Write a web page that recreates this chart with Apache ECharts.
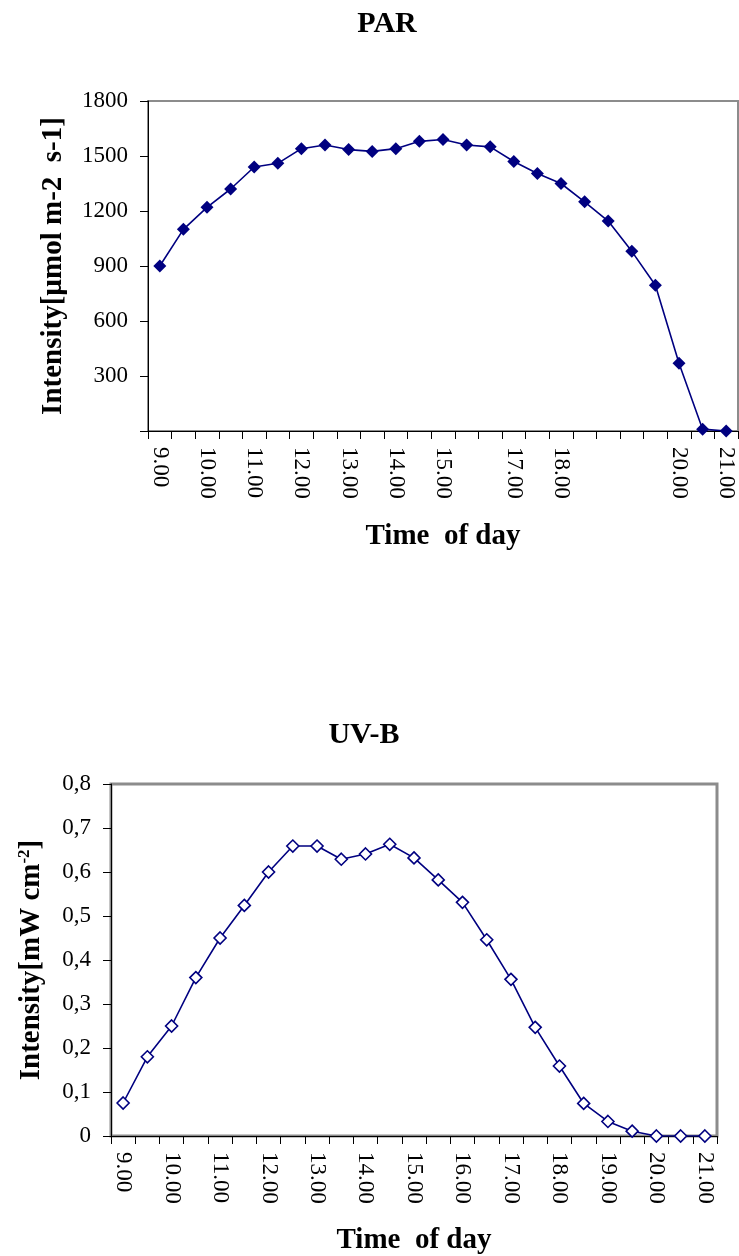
<!DOCTYPE html>
<html><head><meta charset="utf-8">
<script src="https://cdn.jsdelivr.net/npm/echarts@6/dist/echarts.min.js"></script>
<style>html,body{margin:0;padding:0;background:#fff}#c{width:739px;height:1256px}</style>
</head><body><div id="c"></div>
<script>
const parLabels = ['9.00','','10.00','','11.00','','12.00','','13.00','','14.00','','15.00','','','17.00','','18.00','','','','','20.00','','21.00'];
const parValues = [900,1100,1220,1320,1440,1460,1540,1560,1535,1525,1540,1580,1590,1560,1550,1470,1405,1350,1250,1145,980,795,370,10,0];
const uvbLabels = ['9.00','','10.00','','11.00','','12.00','','13.00','','14.00','','15.00','','16.00','','17.00','','18.00','','19.00','','20.00','','21.00'];
const uvbValues = [0.075,0.18,0.25,0.36,0.45,0.524,0.60,0.659,0.659,0.629,0.641,0.663,0.632,0.582,0.531,0.446,0.356,0.247,0.159,0.074,0.033,0.011,0,0,0];

const FONT = "'Liberation Serif','Times New Roman',serif";
const NAVY = '#000080';
const tickLabel = {color:'#000', fontFamily:FONT, fontSize:23};
const nameStyle = {color:'#000', fontFamily:FONT, fontSize:29, fontWeight:'bold'};
const titleStyle = {color:'#000', fontFamily:FONT, fontSize:30, fontWeight:'bold'};

function xAxis(gridIndex, labels, margin, nameGap){
  return {
    type:'category', gridIndex, data:labels, boundaryGap:true,
    axisLine:{show:true, lineStyle:{color:'#000', width:1}},
    axisTick:{show:true, interval:0, length:8, inside:false, lineStyle:{color:'#000'}},
    axisLabel:Object.assign({interval:0, rotate:-90, margin:margin}, tickLabel),
    splitLine:{show:false},
    name:'Time  of day', nameLocation:'middle', nameGap:nameGap, nameTextStyle:nameStyle
  };
}

const chart = echarts.init(document.getElementById('c'), null, {renderer:'canvas'});
chart.setOption({
  backgroundColor:'#fff',
  animation:false,
  title:[
    {text:'PAR', left:387, top:9, padding:0, textAlign:'center', textStyle:titleStyle},
    {text:'UV-B', left:364, top:720, padding:0, textAlign:'center', textStyle:titleStyle}
  ],
  grid:[
    {left:148, top:101, width:590, height:330, show:true, borderColor:'#8c8c8c', borderWidth:2, backgroundColor:'transparent'},
    {left:111, top:784, width:606, height:352, show:true, borderColor:'#8c8c8c', borderWidth:3, backgroundColor:'transparent'}
  ],
  xAxis:[
    xAxis(0, parLabels, 16, 91),
    xAxis(1, uvbLabels, 16, 90)
  ],
  yAxis:[
    {type:'value', gridIndex:0, min:0, max:1800, interval:300,
     axisLine:{show:true, lineStyle:{color:'#000'}},
     axisTick:{show:true, length:8, lineStyle:{color:'#000'}},
     axisLabel:Object.assign({margin:20, formatter:v => v===0 ? '' : String(v)}, tickLabel),
     splitLine:{show:false},
     name:'Intensity[µmol m-2  s-1]', nameLocation:'middle', nameGap:80, nameRotate:90, nameTextStyle:nameStyle},
    {type:'value', gridIndex:1, min:0, max:0.8, interval:0.1,
     axisLine:{show:true, lineStyle:{color:'#000'}},
     axisTick:{show:true, length:8, lineStyle:{color:'#000'}},
     axisLabel:Object.assign({margin:20, formatter:v => (Math.round(v*10)/10).toString().replace('.', ',')}, tickLabel),
     splitLine:{show:false},
     name:'Intensity[mW cm{sup|-2}]', nameLocation:'middle', nameGap:64, nameRotate:90,
     nameTextStyle:Object.assign({rich:{sup:{color:'#000', fontFamily:FONT, fontSize:17, fontWeight:'bold', verticalAlign:'top', padding:[0,0,14,0]}}}, nameStyle)}
  ],
  series:[
    {type:'line', xAxisIndex:0, yAxisIndex:0, data:parValues,
     symbol:'diamond', symbolSize:13, lineStyle:{color:NAVY, width:1.6},
     itemStyle:{color:NAVY, borderColor:NAVY, borderWidth:0}},
    {type:'line', xAxisIndex:1, yAxisIndex:1, data:uvbValues,
     symbol:'diamond', symbolSize:12, showAllSymbol:true, lineStyle:{color:NAVY, width:1.6},
     itemStyle:{color:'#fff', borderColor:NAVY, borderWidth:1.6}}
  ]
});
</script></body></html>
